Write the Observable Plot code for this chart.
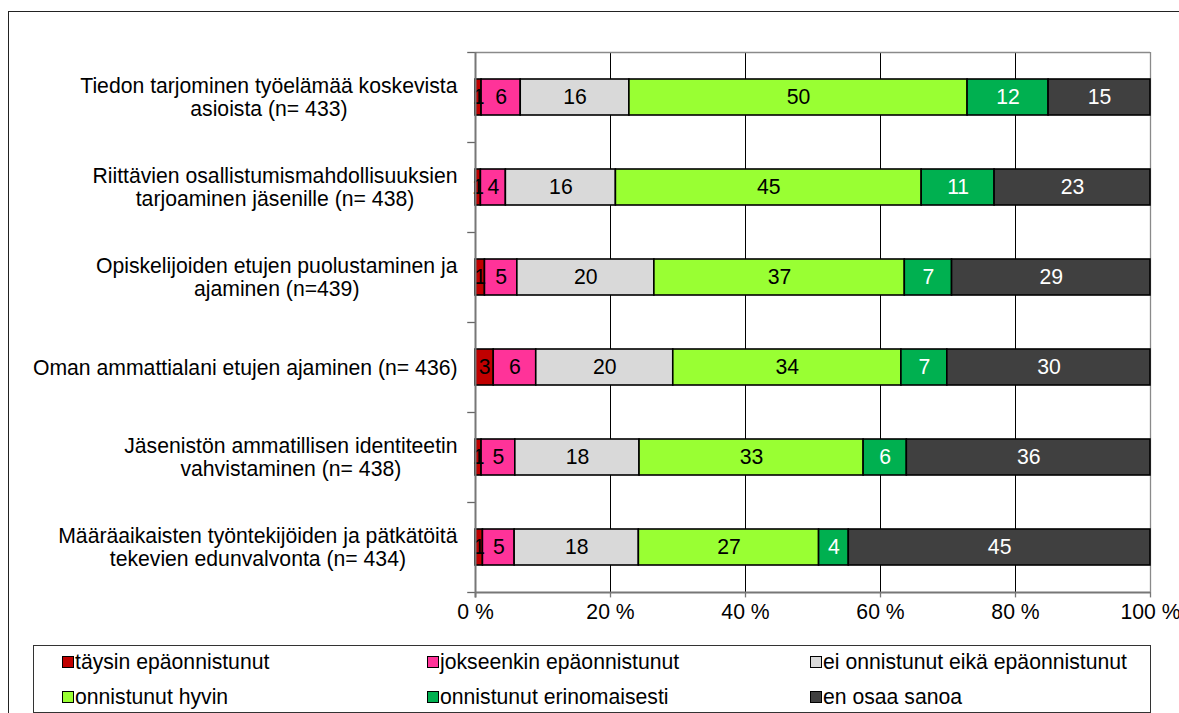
<!DOCTYPE html>
<html>
<head>
<meta charset="utf-8">
<script src="https://cdn.jsdelivr.net/npm/d3@7"></script>
<script src="https://cdn.jsdelivr.net/npm/@observablehq/plot@0.6"></script>
<style>
  html, body { margin: 0; padding: 0; background: #fff; overflow: hidden; width: 1179px; height: 713px; }
  #wrap { position: relative; width: 1179px; height: 713px; font-family: "Liberation Sans", Arial, sans-serif; }
  #frame { position: absolute; left: 8px; top: 11px; width: 1400px; height: 900px; border: 1px solid #222; pointer-events: none; }
  #chart { position: absolute; left: 0; top: 0; }
  #legend { position: absolute; left: 33px; top: 645px; width: 1116px; height: 66px; border: 1px solid #333; background: #fff; font-size: 21.2px; color: #000; }
  .item { position: absolute; display: flex; align-items: center; height: 24px; white-space: nowrap; }
  .sw { width: 10px; height: 10px; border: 1px solid #000; margin-right: 1px; flex: none; }
</style>
</head>
<body>
<div id="wrap">
  <div id="chart"></div>
  <div id="legend"></div>
  <div id="frame"></div>
</div>
<script>
// ---- data ----
const categories = [
  "Tiedon tarjominen työelämää koskevista\nasioista (n= 433)",
  "Riittävien osallistumismahdollisuuksien\ntarjoaminen jäsenille (n= 438)",
  "Opiskelijoiden etujen puolustaminen ja\najaminen (n=439)",
  "Oman ammattialani etujen ajaminen (n= 436)",
  "Jäsenistön ammatillisen identiteetin\nvahvistaminen (n= 438)",
  "Määräaikaisten työntekijöiden ja pätkätöitä\ntekevien edunvalvonta (n= 434)"
];
const series = [
  "täysin epäonnistunut",
  "jokseenkin epäonnistunut",
  "ei onnistunut eikä epäonnistunut",
  "onnistunut hyvin",
  "onnistunut erinomaisesti",
  "en osaa sanoa"
];
const taysinEpaonnistunut      = [0.9, 0.8, 1.4, 2.7, 0.9, 1.1];
const jokseenkinEpaonnistunut  = [5.8, 3.7, 4.8, 6.3, 5.0, 4.7];
const eiOnnistunutEikaEpaonn   = [16.1, 16.3, 20.3, 20.3, 18.4, 18.4];
const onnistunutHyvin          = [50.1, 45.3, 37.1, 33.8, 33.2, 26.7];
const onnistunutErinomaisesti  = [12.0, 10.8, 7.0, 6.8, 6.4, 4.4];
const enOsaaSanoa              = [15.1, 23.1, 29.4, 30.1, 36.1, 44.7];
const xTicks = [0, 20, 40, 60, 80, 100];

const colors = ["#C00000", "#FF3399", "#D9D9D9", "#99FF33", "#00B050", "#404040"];
const whiteLabelSeries = ["onnistunut erinomaisesti", "en osaa sanoa"];

const seriesValues = [taysinEpaonnistunut, jokseenkinEpaonnistunut, eiOnnistunutEikaEpaonn,
                      onnistunutHyvin, onnistunutErinomaisesti, enOsaaSanoa];

// build stacked rows
const rows = [];
categories.forEach((c, i) => {
  let cum = 0;
  series.forEach((s, j) => {
    const v = seriesValues[j][i];
    rows.push({i, cat: c, s, v, x1: cum, x2: cum + v});
    cum += v;
  });
});

const FS = 21.2;
const ctx = document.createElement("canvas").getContext("2d");
ctx.font = FS + "px 'Liberation Sans'";
const labelWidth = c => Math.max(...c.split("\n").map(l => ctx.measureText(l).width));
const GAP = 18;

const catMarks = categories.map((c, i) => Plot.text([c], {
  x: () => 0, y: () => i + 0.5, text: d => d,
  textAnchor: "middle", lineAnchor: "middle", lineHeight: 1.07,
  dx: -(GAP + labelWidth(c) / 2), fill: "#000", fontSize: FS
}));

const plot = Plot.plot({
  width: 1179, height: 640,
  marginLeft: 475, marginRight: 29, marginTop: 52, marginBottom: 48,
  style: {fontFamily: "'Liberation Sans', Arial, sans-serif", fontSize: FS + "px", background: "none", overflow: "visible", color: "#000"},
  x: {type: "linear", domain: [0, 100], axis: null},
  y: {type: "linear", domain: [0, 6], reverse: true, axis: null},
  color: {domain: series, range: colors},
  marks: [
    Plot.ruleX([20, 40, 60, 80], {y1: 0, y2: 6, stroke: "#000", strokeWidth: 1}),
    Plot.ruleX([100], {y1: 0, y2: 6, stroke: "#8a8a8a", strokeWidth: 1.3}),
    Plot.ruleY([0], {x1: 0, x2: 100, stroke: "#8a8a8a", strokeWidth: 1.3}),
    Plot.rect(rows, {x1: "x1", x2: "x2", y1: d => d.i + 0.3, y2: d => d.i + 0.7,
      fill: "s", stroke: "#000", strokeWidth: 1.6}),
    Plot.text(rows.filter(d => !whiteLabelSeries.includes(d.s)), {
      x: d => (d.x1 + d.x2) / 2, y: d => d.i + 0.5, text: d => String(Math.round(d.v)),
      fill: "#000", fontSize: FS}),
    Plot.text(rows.filter(d => whiteLabelSeries.includes(d.s)), {
      x: d => (d.x1 + d.x2) / 2, y: d => d.i + 0.5, text: d => String(Math.round(d.v)),
      fill: "#fff", fontSize: FS}),
    Plot.ruleY(d3.range(7), {x1: -1.15, x2: 0, stroke: "#666", strokeWidth: 1.3}),
    Plot.ruleX([0], {y1: 0, y2: 6.06, stroke: "#777", strokeWidth: 2}),
    Plot.ruleY([6], {x1: 0, x2: 100, stroke: "#777", strokeWidth: 2}),
    Plot.ruleX(xTicks, {y1: 6, y2: 6.06, stroke: "#777", strokeWidth: 1.3}),
    Plot.text(xTicks, {x: d => d, y: () => 6, text: d => d + " %", dy: 20, fill: "#000", fontSize: FS}),
    ...catMarks
  ]
});
document.getElementById("chart").appendChild(plot);

// legend
const legendCols = [28, 393, 776];
const legendRows = [4, 39];
const legend = d3.select("#legend");
series.forEach((s, j) => {
  const item = legend.append("div").attr("class", "item")
    .style("left", legendCols[j % 3] + "px")
    .style("top", legendRows[Math.floor(j / 3)] + "px");
  item.append("div").attr("class", "sw").style("background", colors[j]);
  item.append("span").text(s);
});
</script>
</body>
</html>
